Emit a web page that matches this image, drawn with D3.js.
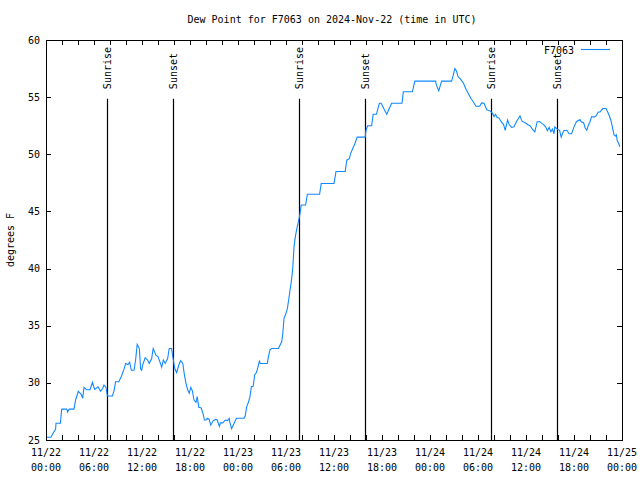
<!DOCTYPE html>
<html><head><meta charset="utf-8">
<script src="https://cdn.jsdelivr.net/npm/d3@7"></script>
<style>body{margin:0;background:#fff}svg text{font-family:"DejaVu Sans Mono","Liberation Mono",monospace;font-size:10px;fill:#000}</style>
</head><body><svg id="c" width="640" height="480"></svg>
<script>
const title = "Dew Point for F7063 on 2024-Nov-22 (time in UTC)";
const seriesName = "F7063";
const startTime = "2024-11-22T00:00:00Z";
// hours after start
const hours = [0.08,0.6,1.2,1.25,1.8,1.96,2.6,2.7,2.9,3.5,3.7,4.04,4.4,4.58,4.75,5.08,5.5,5.8,6.08,6.5,6.83,7.08,7.25,7.5,7.67,8.3,8.5,8.7,9.1,9.4,9.75,9.96,10.25,10.46,10.67,11.0,11.2,11.4,11.67,11.83,11.96,12.08,12.4,12.7,12.9,13.2,13.4,13.75,14.0,14.3,14.46,14.67,14.9,15.2,15.4,15.7,15.83,15.96,16.08,16.33,16.6,16.83,17.1,17.3,17.5,17.7,17.9,18.1,18.3,18.5,18.75,18.9,19.1,19.4,19.67,19.8,20.0,20.2,20.4,20.6,20.9,21.2,21.4,21.67,21.83,22.1,22.4,22.7,22.9,23.0,23.2,23.4,23.8,24.75,24.9,25.08,25.3,25.5,25.67,25.9,26.08,26.3,26.5,26.67,26.8,27.67,27.8,28.0,28.2,29.04,29.25,29.46,29.6,29.75,29.96,30.17,30.33,30.5,30.67,30.83,30.92,31.0,31.17,31.33,31.5,31.58,31.75,31.9,32.45,32.67,34.2,34.4,36.0,36.25,37.4,37.6,37.9,38.1,38.4,38.6,38.9,39.9,40.0,40.2,40.7,40.9,41.3,41.67,41.9,42.3,42.6,42.9,43.2,44.5,44.67,45.8,46.1,48.7,48.8,49.1,49.3,49.46,50.7,50.9,51.1,51.3,51.5,51.8,52.2,52.5,52.8,53.1,53.4,53.75,54.2,54.46,54.75,55.1,55.5,55.8,56.0,56.2,56.4,56.6,56.9,57.2,57.4,57.7,57.9,58.2,58.5,58.8,59.25,59.5,59.9,60.3,60.5,60.8,61.1,61.4,61.75,61.96,62.2,62.46,62.67,62.9,63.1,63.3,63.5,63.6,63.9,64.2,64.4,64.7,65.1,65.4,65.7,66.0,66.3,66.75,66.9,67.2,67.4,67.6,67.8,68.0,68.2,68.5,68.75,69.04,69.25,69.6,70.0,70.3,70.6,70.8,71.0,71.2,71.3,71.4,71.58,71.72];
const dewPoint = [25.24,25.24,25.96,26.46,26.46,27.7,27.7,27.45,27.7,27.7,28.5,29.26,29.0,28.65,29.6,29.4,29.4,30.05,29.43,29.66,29.26,29.5,29.8,29.6,28.85,28.85,29.3,30.1,30.1,30.54,31.2,31.7,31.6,31.8,31.1,31.1,32.0,33.37,33.0,31.2,31.1,31.56,32.2,32.0,31.7,32.1,33.0,32.4,32.3,31.7,31.36,32.0,31.7,32.1,33.0,33.0,32.35,31.85,31.27,30.9,31.56,31.94,31.7,30.7,29.96,29.4,29.1,29.6,29.3,28.5,28.3,28.8,27.86,27.8,27.2,26.75,26.75,26.9,26.8,26.3,26.7,26.8,26.75,26.2,26.5,26.5,26.75,26.7,26.9,26.5,26.0,26.3,26.9,26.9,27.1,27.9,28.3,28.8,29.66,29.7,30.7,30.9,31.4,31.9,31.7,31.7,32.3,32.9,33.0,33.0,33.3,33.6,34.3,35.65,36.0,36.5,37.25,38.1,38.9,39.9,40.9,41.9,42.8,43.4,43.96,44.2,44.8,45.56,45.56,46.5,46.5,47.45,47.45,48.5,48.5,49.5,49.6,50.1,50.6,50.9,51.5,51.5,52.1,52.5,52.5,53.5,53.5,54.46,54.46,53.9,53.5,54.0,54.46,54.46,55.47,55.47,56.4,56.4,56.05,55.56,56.05,56.4,56.4,56.9,57.5,57.3,56.8,56.6,56.2,55.7,55.3,54.9,54.6,54.2,54.2,54.5,54.46,53.9,53.8,53.6,53.3,53.5,53.2,53.2,52.85,52.6,52.1,53.0,52.6,52.35,52.4,52.85,53.35,52.9,52.76,52.56,52.5,52.2,51.97,52.85,52.85,52.7,52.6,52.4,52.06,52.35,51.97,52.2,51.8,52.4,52.2,52.1,51.5,52.06,52.1,51.8,51.8,52.4,52.85,53.05,52.85,52.76,52.3,52.1,52.56,52.85,53.3,53.25,53.35,53.7,53.7,54.0,54.0,53.57,53.0,52.4,51.7,51.6,51.7,51.2,50.96,50.66];
const sunEvents = ["Sunrise","Sunset","Sunrise","Sunset","Sunrise","Sunset"];
const sunTimes = ["2024-11-22T07:37:00Z","2024-11-22T15:53:00Z","2024-11-23T07:38:00Z","2024-11-23T15:53:00Z","2024-11-24T07:39:00Z","2024-11-24T15:52:00Z"];
const yTicks = [25,30,35,40,45,50,55,60];
const yLabel = "degrees F";

(function(){
const svg = d3.select("#c");
const L=46,R=622,T=40,B=440;
const t0 = new Date(startTime);
const t1 = d3.utcHour.offset(t0,72);
const x = d3.scaleUtc().domain([t0,t1]).range([L,R]);
const y = d3.scaleLinear().domain([25,60]).range([B,T]);
const data = hours.map((h,i)=>({t:new Date(+t0+h*3600e3), v:dewPoint[i]}));

svg.append("text").attr("x",332).attr("y",23).attr("text-anchor","middle").text(title);
svg.append("text").attr("transform","translate(14,240) rotate(-90)").attr("text-anchor","middle").text(yLabel);

const allTicks = d3.utcHour.every(2).range(t0, d3.utcHour.offset(t1,1));
const majorTicks = d3.utcHour.every(6).range(t0, d3.utcHour.offset(t1,1));
const g = svg.append("g");
const axB = d3.axisBottom(x).tickValues(allTicks).tickSize(-5).tickFormat("");
const axT = d3.axisTop(x).tickValues(allTicks).tickSize(-5).tickFormat("");
const axL = d3.axisLeft(y).tickValues(yTicks).tickSize(-5).tickFormat("");
const axR = d3.axisRight(y).tickValues(yTicks).tickSize(-5).tickFormat("");
[[axB,`translate(0,${B})`],[axT,`translate(0,${T})`],[axL,`translate(${L},0)`],[axR,`translate(${R},0)`]].forEach(([a,tr])=>{
  const gg=g.append("g").attr("transform",tr).call(a);
  gg.select(".domain").remove();
  gg.selectAll("line").attr("stroke","#000").attr("shape-rendering","crispEdges");
});
svg.append("g").selectAll("text").data(yTicks).join("text")
  .attr("x",L-6).attr("y",d=>y(d)).attr("dy","0.35em").attr("text-anchor","end").text(d=>d);
const fmtD=d3.utcFormat("%m/%d"), fmtT=d3.utcFormat("%H:%M");
const xl = svg.append("g").selectAll("g").data(majorTicks).join("g");
xl.append("text").attr("x",d=>x(d)).attr("y",B+16).attr("text-anchor","middle").text(fmtD);
xl.append("text").attr("x",d=>x(d)).attr("y",B+31).attr("text-anchor","middle").text(fmtT);

const ev = svg.append("g").selectAll("g").data(sunTimes.map((s,i)=>({t:new Date(s),n:sunEvents[i]}))).join("g");
ev.append("line").attr("x1",d=>Math.round(x(d.t))+0.5).attr("x2",d=>Math.round(x(d.t))+0.5)
  .attr("y1",B).attr("y2",y(54.85)).attr("stroke","#000").attr("stroke-width",1.2);
ev.append("text").attr("transform",d=>`translate(${Math.round(x(d.t))+0.5},${y(55.7)}) rotate(-90)`)
  .attr("dy","0.35em").attr("text-anchor","start").text(d=>d.n);

svg.append("path").datum(data).attr("fill","none").attr("stroke","#1188ff").attr("stroke-width",1.1)
  .attr("d",d3.line().x(d=>x(d.t)).y(d=>y(d.v)));

svg.append("rect").attr("x",L+0.5).attr("y",T+0.5).attr("width",R-L).attr("height",B-T)
  .attr("fill","none").attr("stroke","#000").attr("shape-rendering","crispEdges");

svg.append("text").attr("x",574).attr("y",50).attr("dy","0.35em").attr("text-anchor","end").text(seriesName);
svg.append("line").attr("x1",581).attr("x2",610).attr("y1",49.5).attr("y2",49.5).attr("stroke","#1188ff").attr("stroke-width",1.1);
})();
</script></body></html>
